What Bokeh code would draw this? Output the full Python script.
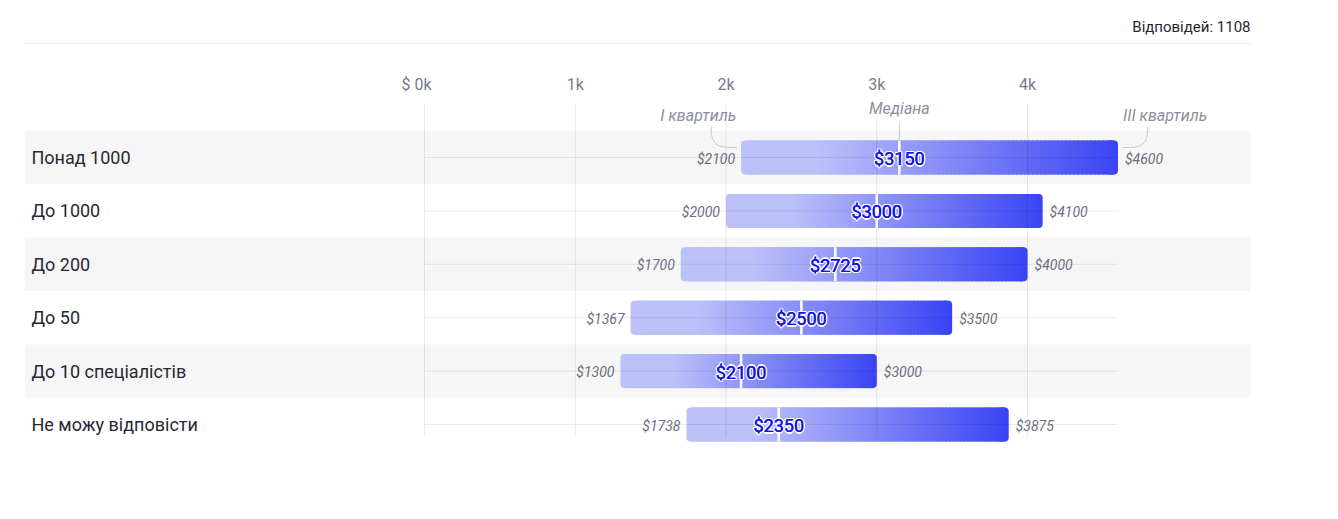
from bokeh.core.properties import value
from bokeh.embed import file_html
from bokeh.models import BoxAnnotation, Range1d, Span
from bokeh.plotting import figure
from bokeh.resources import INLINE

# data
groups = ["Понад 1000", "До 1000", "До 200", "До 50", "До 10 спеціалістів", "Не можу відповісти"]
q1 = [2100, 2000, 1700, 1367, 1300, 1738]
median = [3150, 3000, 2725, 2500, 2100, 2350]
q3 = [4600, 4100, 4000, 3500, 3000, 3875]
ticks = [0, 1000, 2000, 3000, 4000]
tick_labels = ["$ 0k", "1k", "2k", "3k", "4k"]
answers = "Відповідей: 1108"

FW, FH = 1226, 503
PX_PER_K = 150.75          # pixels per $1000
ROW_PX = 53.4              # pixels per row
x_start = -400 / PX_PER_K * 1000
x_end = (FW - 400) / PX_PER_K * 1000
px = 1000 / PX_PER_K       # data units per pixel on x
y_top = -149 / ROW_PX
y_bot = (FH - 149) / ROW_PX

FONT = value("Roboto")

p = figure(output_backend="svg", toolbar_location=None, tools="",
           x_range=Range1d(x_start, x_end), y_range=Range1d(y_bot, y_top),
           min_border_left=24, min_border_right=72, min_border_top=8, min_border_bottom=0)
p.frame_width = FW
p.frame_height = FH
p.axis.visible = False
p.grid.visible = False
p.outline_line_color = None
p.background_fill_color = "white"

# alternating row bands
for i in range(len(groups)):
    if i % 2 == 0:
        p.add_layout(BoxAnnotation(bottom=i - 0.5, top=i + 0.5, fill_color="#f6f6f6",
                                   fill_alpha=1, line_color=None, level="underlay"))

# header
p.add_layout(Span(location=-114 / ROW_PX, dimension="width", line_color="#ebebeb", line_width=1))
p.text(x=[x_end], y=[-131 / ROW_PX], text=[answers], text_align="right", text_baseline="middle",
       text_font=FONT, text_font_size="15px", text_font_style="normal", text_color="#26282f")

rows = list(range(len(groups)))
bar_h = 34 / ROW_PX

light = (189, 193, 249)
dark = (58, 68, 244)


def grad(t):
    u = min(max((t - 0.2) / 0.8, 0), 1)
    c = [round(light[k] + (dark[k] - light[k]) * u) for k in range(3)]
    return "#%02x%02x%02x" % tuple(c)


# bars: rounded light base, rounded dark right cap, gradient slices between
p.hbar(y=rows, left=q1, right=q3, height=bar_h, fill_color=grad(0), line_color=None,
       border_radius=4)
p.hbar(y=rows, left=[b - 12 * px for b in q3], right=q3, height=bar_h, fill_color=grad(1),
       line_color=None, border_radius=4)
N = 90
sl, sr, sy, sc = [], [], [], []
for i in rows:
    a, b = q1[i] + 4 * px, q3[i] - 4 * px
    w = (b - a) / N
    for k in range(N):
        sl.append(a + k * w)
        sr.append(min(a + (k + 1.6) * w, b))
        sy.append(i)
        sc.append(grad((a + (k + 0.5) * w - q1[i]) / (q3[i] - q1[i])))
p.hbar(y=sy, left=sl, right=sr, height=bar_h, fill_color=sc, line_color=None)

# grid lines (drawn over bars, faint, so they show through)
p.segment(x0=ticks, x1=ticks, y0=[-54 / ROW_PX] * len(ticks), y1=[280 / ROW_PX] * len(ticks),
          line_color="black", line_alpha=0.09, line_width=1)
p.segment(x0=[0] * len(rows), x1=[max(q3)] * len(rows), y0=rows, y1=rows,
          line_color="black", line_alpha=0.08, line_width=1)

# median marks
p.segment(x0=median, x1=median, y0=[r - bar_h / 2 for r in rows], y1=[r + bar_h / 2 for r in rows],
          line_color="white", line_width=2.5)

# tick labels ("$ " prefix hangs to the left of the zero tick)
p.text(x=ticks, y=[-73 / ROW_PX] * len(ticks), text=tick_labels, text_align="center",
       x_offset=[-8, 0, 0, 0, 0], text_baseline="middle", text_font=FONT,
       text_font_size="16px", text_color="#767b8f")
# category labels
p.text(x=[x_start] * len(groups), y=rows, x_offset=7, text=groups, text_align="left",
       text_baseline="middle", text_font=FONT, text_font_size="18px", text_color="#262833")

# quartile values
p.text(x=q1, y=rows, x_offset=-6, y_offset=1, text=["$%d" % v for v in q1], text_align="right",
       text_baseline="middle", text_font=FONT, text_font_size="14px", text_font_style="italic",
       text_color="#6b6e80")
p.text(x=q3, y=rows, x_offset=7, y_offset=1, text=["$%d" % v for v in q3], text_align="left",
       text_baseline="middle", text_font=FONT, text_font_size="14px", text_font_style="italic",
       text_color="#6b6e80")

# median values with white halo
mtext = ["$%d" % v for v in median]
for dx, dy in [(-1.5, 0), (1.5, 0), (0, -1.5), (0, 1.5), (-1, -1), (1, 1), (-1, 1), (1, -1)]:
    p.text(x=median, y=rows, x_offset=dx, y_offset=dy + 1, text=mtext, text_align="center",
           text_baseline="middle", text_font=FONT, text_font_size="18px", text_color="white")
for dx in (-0.3, 0.3):
    p.text(x=median, y=rows, x_offset=dx, y_offset=1, text=mtext, text_align="center",
           text_baseline="middle", text_font=FONT, text_font_size="18px", text_color="#1414e6")

# legend annotations on the first row
yl = -42 / ROW_PX
lab = dict(text_baseline="middle", text_font=FONT, text_font_size="16px",
           text_font_style="italic", text_color="#8c8f9e")
p.text(x=[q1[0]], y=[yl], x_offset=-5, text=["I квартиль"], text_align="right", **lab)
p.text(x=[median[0]], y=[-49 / ROW_PX], text=["Медіана"], text_align="center", **lab)
p.text(x=[q3[0]], y=[yl], x_offset=5, text=["III квартиль"], text_align="left", **lab)
p.segment(x0=[median[0]], x1=[median[0]], y0=[-35 / ROW_PX], y1=[-bar_h / 2],
          line_color="#c8c8c8", line_width=1)
ys, ye = -31 / ROW_PX, -10 / ROW_PX
p.bezier(x0=[q1[0] - 30 * px], y0=[ys], x1=[q1[0] - 4 * px], y1=[ye],
         cx0=[q1[0] - 30 * px], cy0=[ye], cx1=[q1[0] - 22 * px], cy1=[ye],
         line_color="#c8c8c8", line_width=1)
p.bezier(x0=[q3[0] + 30 * px], y0=[ys], x1=[q3[0] + 5 * px], y1=[ye],
         cx0=[q3[0] + 30 * px], cy0=[ye], cx1=[q3[0] + 22 * px], cy1=[ye],
         line_color="#c8c8c8", line_width=1)

open("out.html", "w").write(file_html(p, INLINE))
